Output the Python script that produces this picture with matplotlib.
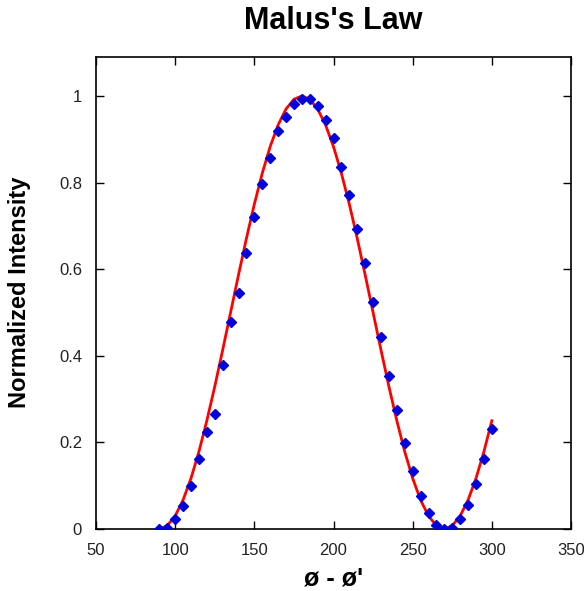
import numpy as np
import matplotlib
matplotlib.use('Agg')
import matplotlib.pyplot as plt
from matplotlib.ticker import FormatStrFormatter

plt.rcParams['font.family'] = ['Liberation Sans', 'DejaVu Sans']

# measured points (angle difference in degrees, normalized intensity)
angle = [90, 95, 100, 105, 110, 115, 120, 125, 130, 135, 140, 145, 150, 155,
         160, 165, 170, 175, 180, 185, 190, 195, 200, 205, 210, 215, 220, 225,
         230, 235, 240, 245, 250, 255, 260, 265, 270, 275, 280, 285, 290, 295, 300]
intensity = [0.0, 0.002, 0.023, 0.053, 0.099, 0.162, 0.223, 0.266, 0.379, 0.477,
             0.546, 0.637, 0.720, 0.796, 0.857, 0.918, 0.951, 0.981, 0.994, 0.994,
             0.976, 0.945, 0.902, 0.835, 0.771, 0.693, 0.614, 0.525, 0.443, 0.354,
             0.275, 0.199, 0.135, 0.077, 0.038, 0.009, 0.0, 0.003, 0.023, 0.056,
             0.105, 0.162, 0.232]

# fitted curve
fit_angle = angle
fit_intensity = [0.0, 0.0076, 0.0302, 0.067, 0.117, 0.1786, 0.25, 0.329, 0.4132,
                 0.5, 0.5868, 0.671, 0.75, 0.8214, 0.883, 0.933, 0.9698, 0.9924,
                 1.0, 0.9924, 0.9698, 0.933, 0.883, 0.8214, 0.75, 0.671, 0.5868,
                 0.5, 0.4132, 0.329, 0.25, 0.1786, 0.117, 0.067, 0.0302, 0.0076,
                 0.0, 0.0076, 0.0302, 0.067, 0.117, 0.1786, 0.25]

W, H = 584, 591
fig = plt.figure(figsize=(W / 100, H / 100), dpi=100)
ax = fig.add_axes([96 / W, 1 - 529 / H, (571 - 96) / W, (529 - 57) / H])

ax.plot(fit_angle, fit_intensity, color='red', lw=2, zorder=2)
ax.plot(angle, intensity, 'D', color='#0000dd', ms=5, zorder=3)

ax.set_xlim(50, 350)
ax.set_ylim(0, 1.09)
ax.set_xticks(np.arange(50, 351, 50))
ax.set_yticks([0, 0.2, 0.4, 0.6, 0.8, 1.0])
ax.yaxis.set_major_formatter(FormatStrFormatter('%g'))
ax.tick_params(direction='in', top=True, right=True, length=6, width=1,
               labelsize=12, pad=10, labelcolor='#222222')
for s in ax.spines.values():
    s.set_linewidth(1.2)

fig.text(333.5 / W, 1 - 21 / H, "Malus's Law", fontsize=22, fontweight='bold',
         ha='center', va='center')
fig.text(333.5 / W, 1 - 579 / H, "ø - ø'", fontsize=18, fontweight='bold',
         ha='center', va='center')
fig.text(20 / W, 1 - 292 / H, "Normalized Intensity", fontsize=17,
         fontweight='bold', ha='center', va='center', rotation=90)

plt.savefig('out.png', dpi=100)
